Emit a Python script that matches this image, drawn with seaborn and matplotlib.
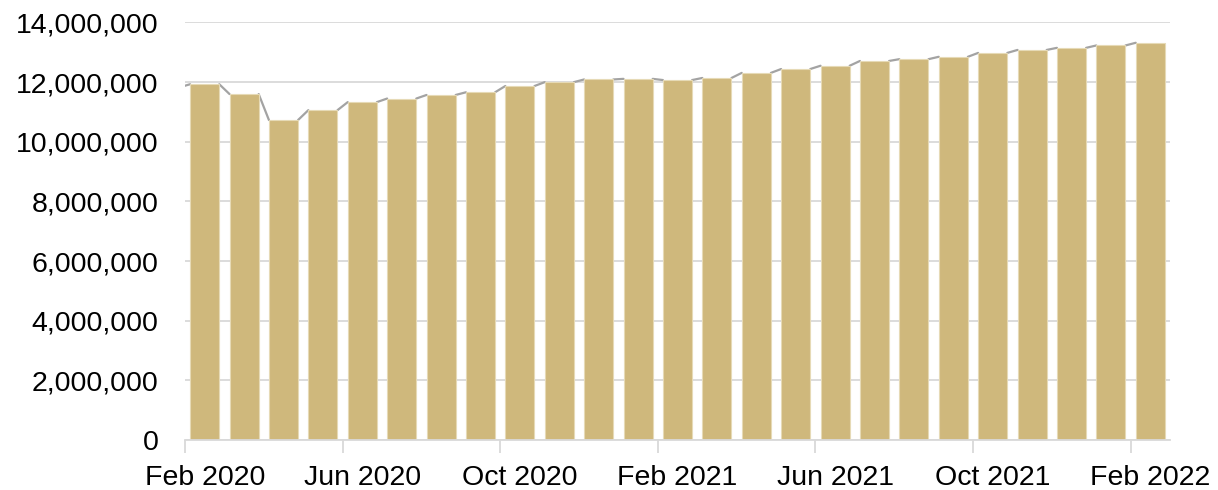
import numpy as np
import pandas as pd
import matplotlib
matplotlib.use("Agg")
import matplotlib.pyplot as plt
import seaborn as sns
from matplotlib.ticker import FuncFormatter

# Data (monthly totals)
months = [
    "Feb 2020", "Mar 2020", "Apr 2020", "May 2020", "Jun 2020", "Jul 2020",
    "Aug 2020", "Sep 2020", "Oct 2020", "Nov 2020", "Dec 2020", "Jan 2021",
    "Feb 2021", "Mar 2021", "Apr 2021", "May 2021", "Jun 2021", "Jul 2021",
    "Aug 2021", "Sep 2021", "Oct 2021", "Nov 2021", "Dec 2021", "Jan 2022",
    "Feb 2022",
]
values = [
    11930000, 11600000, 10730000, 11060000, 11330000, 11450000,
    11570000, 11660000, 11870000, 12000000, 12090000, 12110000,
    12070000, 12140000, 12310000, 12440000, 12550000, 12710000,
    12770000, 12850000, 12980000, 13080000, 13150000, 13230000,
    13320000,
]
prior_value = 11830000  # Jan 2020, only its connector is visible
tick_labels = ["Feb 2020", "Jun 2020", "Oct 2020", "Feb 2021",
               "Jun 2021", "Oct 2021", "Feb 2022"]

BAR_COLOR = "#CFB87C"
LINE_COLOR = "#A3A3A3"
GRID_COLOR = "#D9D9D9"
BAR_WIDTH = 0.74

sns.set_theme(style="white")
plt.rcParams["font.family"] = ["Liberation Sans", "DejaVu Sans"]

df = pd.DataFrame({"month": months, "value": values})

# connectors from each bar's right edge to the next bar's left edge
half = BAR_WIDTH / 2
all_vals = [prior_value] + values
rows = []
for i in range(len(values)):
    rows.append({"seg": i, "x": i - 1 + half, "y": all_vals[i]})
    rows.append({"seg": i, "x": i - half, "y": all_vals[i + 1]})
line_df = pd.DataFrame(rows)

fig = plt.figure(figsize=(12.18, 4.90), dpi=100)
ax = fig.add_axes([185 / 1218, 50 / 490, 985 / 1218, 417.5 / 490])

sns.lineplot(data=line_df, x="x", y="y", units="seg", estimator=None,
             ax=ax, color=LINE_COLOR, linewidth=1.6, sort=False, zorder=1)
sns.barplot(data=df, x="month", y="value", ax=ax, color=BAR_COLOR,
            width=BAR_WIDTH, saturation=1, edgecolor="#E6DAB6",
            linewidth=0.8, zorder=2)

ax.set_xlim(-0.5, len(values) - 0.5)
ax.set_ylim(0, 14000000)
ax.set_yticks(np.arange(0, 14000001, 2000000))
ax.yaxis.set_major_formatter(FuncFormatter(lambda v, p: f"{int(v):,}"))
ax.yaxis.grid(True, color=GRID_COLOR, linewidth=1.3, zorder=0)
ax.set_axisbelow(True)

# tick marks on category boundaries, labels centred on the bars
ax.set_xticks(np.arange(-0.5, len(values), 4))
ax.set_xticklabels([])
ax.set_xticks(np.arange(0, len(values), 4), minor=True)
ax.set_xticklabels(tick_labels, minor=True)
ax.set_xlabel("")
ax.set_ylabel("")

for side in ["top", "right", "left"]:
    ax.spines[side].set_visible(False)
ax.spines["bottom"].set_color(GRID_COLOR)
ax.spines["bottom"].set_linewidth(1.3)

ax.tick_params(axis="x", which="major", length=9, width=1.3,
               color=GRID_COLOR, bottom=True, direction="out")
ax.tick_params(axis="x", which="minor", length=0, labelsize=20.5,
               pad=18, labelcolor="black")
ax.tick_params(axis="y", length=0, labelsize=20.5, pad=19,
               labelcolor="black")

fig.savefig("out.png", dpi=100)
